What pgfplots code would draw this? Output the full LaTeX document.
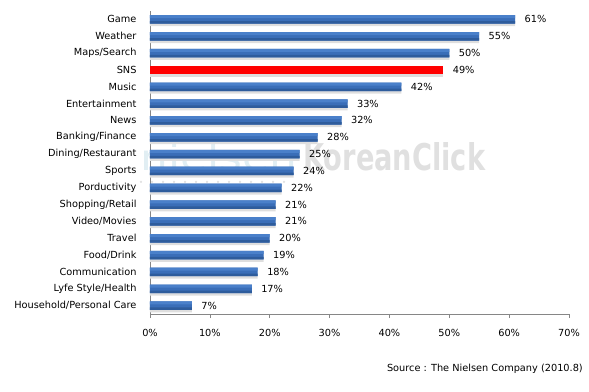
\documentclass[border=0pt]{standalone}
\usepackage{pgfplots}
\pgfplotsset{compat=1.18}
\usepackage{fontspec}
\setmainfont{DejaVu Sans}
\definecolor{barBlue}{HTML}{3A6EB8}
\definecolor{barLight}{HTML}{4A80CA}
\definecolor{barDark}{HTML}{2E5C9C}
\definecolor{axisgray}{HTML}{868686}
\definecolor{wmgray}{HTML}{E0E0E0}
\definecolor{wmblue}{HTML}{E1EEF3}
\pgfplotstableread{
idx val
0 61
1 55
2 50
4 42
5 33
6 32
7 28
8 25
9 24
10 22
11 21
12 21
13 20
14 19
15 18
16 17
17 7
}\bluedata
\pgfplotstableread{
idx val
3 49
}\reddata
\begin{document}
\begin{tikzpicture}[font=\fontsize{9.8}{11.5}\selectfont]
\useasboundingbox (-150bp,-78bp) rectangle (439bp,314bp);
\node[anchor=base west, inner sep=0pt] at (-10bp,143bp) {\resizebox{157bp}{27bp}{\textcolor{wmblue}{nielsen}}};
\node[anchor=base west, inner sep=0pt] at (153bp,143bp) {\resizebox{182bp}{28bp}{\textcolor{wmgray}{\bfseries KoreanClick}}};
\draw[wmgray, line width=2.5bp, line cap=round, dash pattern=on 0bp off 11bp] (-9bp,132bp) -- (140bp,132bp);
\begin{axis}[
  at={(0,0)}, anchor=south west,
  scale only axis, width=419bp, height=303bp,
  xmin=0, xmax=70, ymin=-0.5, ymax=17.5,
  y dir=reverse,
  axis lines*=left,
  axis line style={axisgray, line width=0.6pt},
  xtick={0,10,...,70},
  xticklabel={\pgfmathprintnumber{\tick}\%},
  ytick={0,...,17},
  yticklabels={Game,Weather,Maps/Search,SNS,Music,Entertainment,News,Banking/Finance,Dining/Restaurant,Sports,Porductivity,Shopping/Retail,Video/Movies,Travel,Food/Drink,Communication,Lyfe Style/Health,Household/Personal Care},
  minor ytick={-0.5,0.5,...,17.5},
  tick align=outside,
  major tick length=4bp,
  minor tick length=4bp,
  tick style={axisgray, line width=0.6pt},
  ytick style={draw=none},
  minor tick style={axisgray, line width=0.6pt},
  xticklabel style={yshift=-8bp},
  yticklabel style={xshift=-6bp, text=black},
  /pgf/number format/assume math mode=true,
  clip=false,
]
% shadows
\addplot[xbar, bar width=8.5bp, bar shift=-2.5bp, draw=none, fill=black!13] table[x=val,y=idx]{\bluedata};
\addplot[xbar, bar width=8.5bp, bar shift=-2.5bp, draw=none, fill=black!13] table[x=val,y=idx]{\reddata};
\addplot[xbar, bar width=8.5bp, bar shift=0pt, draw=none, fill=barBlue,
  nodes near coords={\pgfmathprintnumber{\pgfplotspointmeta}\%},
  point meta=x, every node near coord/.append style={anchor=west, xshift=6bp, text=black}]
  table[x=val,y=idx]{\bluedata};
\addplot[xbar, bar width=3bp, bar shift=2.75bp, draw=none, fill=barLight] table[x=val,y=idx]{\bluedata};
\addplot[xbar, bar width=2.5bp, bar shift=-3bp, draw=none, fill=barDark] table[x=val,y=idx]{\bluedata};
\addplot[xbar, bar width=8.5bp, bar shift=0pt, draw=none, fill=red,
  nodes near coords={\pgfmathprintnumber{\pgfplotspointmeta}\%},
  point meta=x, every node near coord/.append style={anchor=west, xshift=6bp, text=black}]
  table[x=val,y=idx]{\reddata};
\end{axis}
\node[anchor=east, inner sep=0pt] at (433bp,-55bp) {Source : The Nielsen Company (2010.8)};
\end{tikzpicture}
\end{document}
